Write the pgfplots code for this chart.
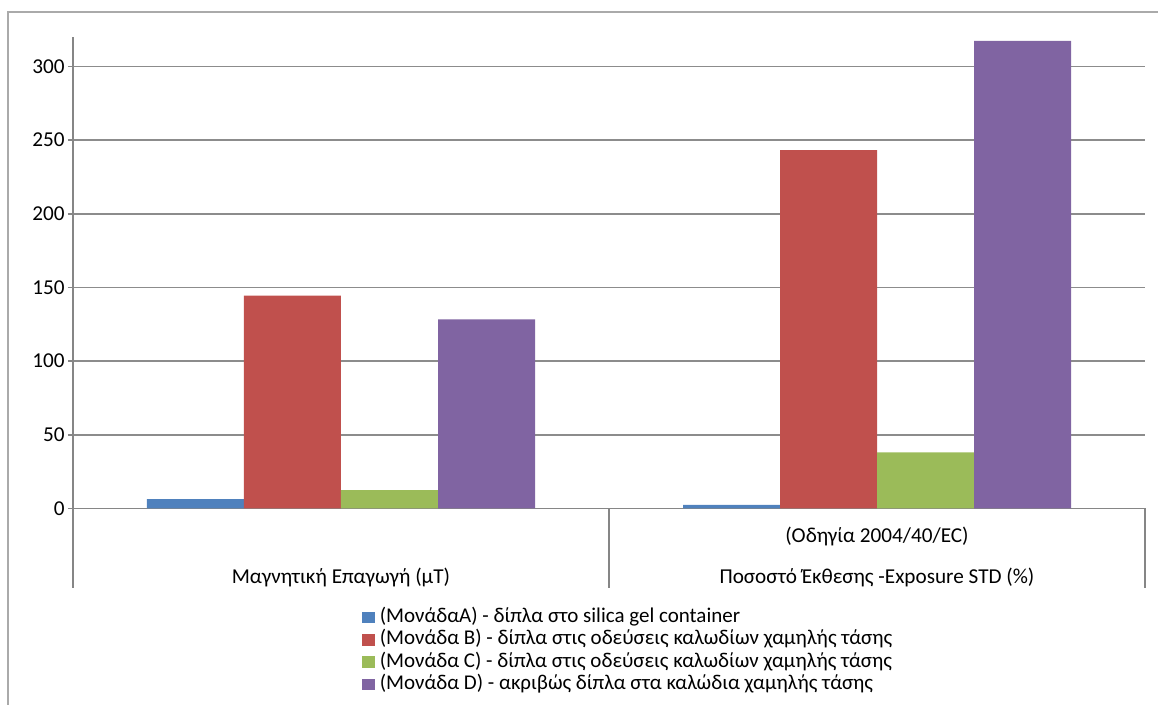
\documentclass[border=0pt]{standalone}
\usepackage{pgfplots}
\pgfplotsset{compat=1.18}
\usepackage{fontspec}
\setmainfont{Carlito}
\definecolor{sA}{RGB}{79,129,189}
\definecolor{sB}{RGB}{192,80,77}
\definecolor{sC}{RGB}{155,187,89}
\definecolor{sD}{RGB}{128,100,162}
\definecolor{axgray}{RGB}{134,134,134}
\definecolor{gridgray}{RGB}{140,140,140}
\definecolor{framegray}{RGB}{170,170,170}
\begin{document}
\begin{tikzpicture}
\begin{axis}[
  scale only axis, clip=false,
  width=536pt, height=235.75pt,
  xmin=-0.5, xmax=1.5, ymin=0, ymax=320,
  ybar=0pt, bar width=48.5pt,
  axis x line*=bottom, axis y line*=left,
  axis line style={axgray, line width=0.8pt},
  xtick=\empty,
  ytick={0,50,100,150,200,250,300},
  tick align=outside,
  major tick length=2.5pt,
  ytick style={axgray, line width=0.8pt},
  ymajorgrids,
  grid style={gridgray, line width=0.8pt},
  /pgf/number format/assume math mode=true,
  yticklabel style={font=\fontsize{10.6}{12}\selectfont, anchor=east, inner sep=0pt, xshift=-1.5pt},
  legend style={at={(0.264,-0.2004)}, anchor=north west, draw=none, fill=none,
    font=\fontsize{10.5}{12}\selectfont, row sep=1.2pt, column sep=0pt,
    nodes={inner ysep=0pt, inner xsep=2.5pt, text height=7.5pt, text depth=2.5pt}},
  legend cell align=left,
  legend image code/.code={\fill[#1] (0pt,-2.9pt) rectangle (6.2pt,2.9pt);},
]
\addplot[fill=sA, draw=none] coordinates {(0,6.4) (1,2.4)};
\addlegendentry{(ΜονάδαA) - δίπλα στο silica gel container}
\addplot[fill=sB, draw=none] coordinates {(0,144.4) (1,243.3)};
\addlegendentry{(Μονάδα B) - δίπλα στις οδεύσεις καλωδίων χαμηλής τάσης}
\addplot[fill=sC, draw=none] coordinates {(0,12.5) (1,38.1)};
\addlegendentry{(Μονάδα C) - δίπλα στις οδεύσεις καλωδίων χαμηλής τάσης}
\addplot[fill=sD, draw=none] coordinates {(0,128.4) (1,317.3)};
\addlegendentry{(Μονάδα D) - ακριβώς δίπλα στα καλώδια χαμηλής τάσης}
\draw[axgray, line width=0.8pt] (axis cs:-0.5,0) -- ([yshift=-39.75pt]axis cs:-0.5,0);
\draw[axgray, line width=0.8pt] (axis cs:0.5,0) -- ([yshift=-39.75pt]axis cs:0.5,0);
\draw[axgray, line width=0.8pt] (axis cs:1.5,0) -- ([yshift=-39.75pt]axis cs:1.5,0);
\node[font=\fontsize{10.6}{12}\selectfont] at ([yshift=-34.25pt]axis cs:0,0) {Μαγνητική Επαγωγή (μT)};
\node[font=\fontsize{10.6}{12}\selectfont] at ([yshift=-14pt]axis cs:1,0) {(Οδηγία 2004/40/EC)};
\node[font=\fontsize{10.6}{12}\selectfont] at ([yshift=-34.25pt]axis cs:1,0) {Ποσοστό Έκθεσης -Exposure STD (\%)};
\end{axis}
\draw[framegray, line width=0.8pt] (-32.5pt,-98.25pt) -- (-32.5pt,248.25pt) -- (542.5pt,248.25pt);
\pgfresetboundingbox
\path[use as bounding box] (-36.5pt,-98.25pt) rectangle (542.5pt,254.25pt);
\end{tikzpicture}
\end{document}
